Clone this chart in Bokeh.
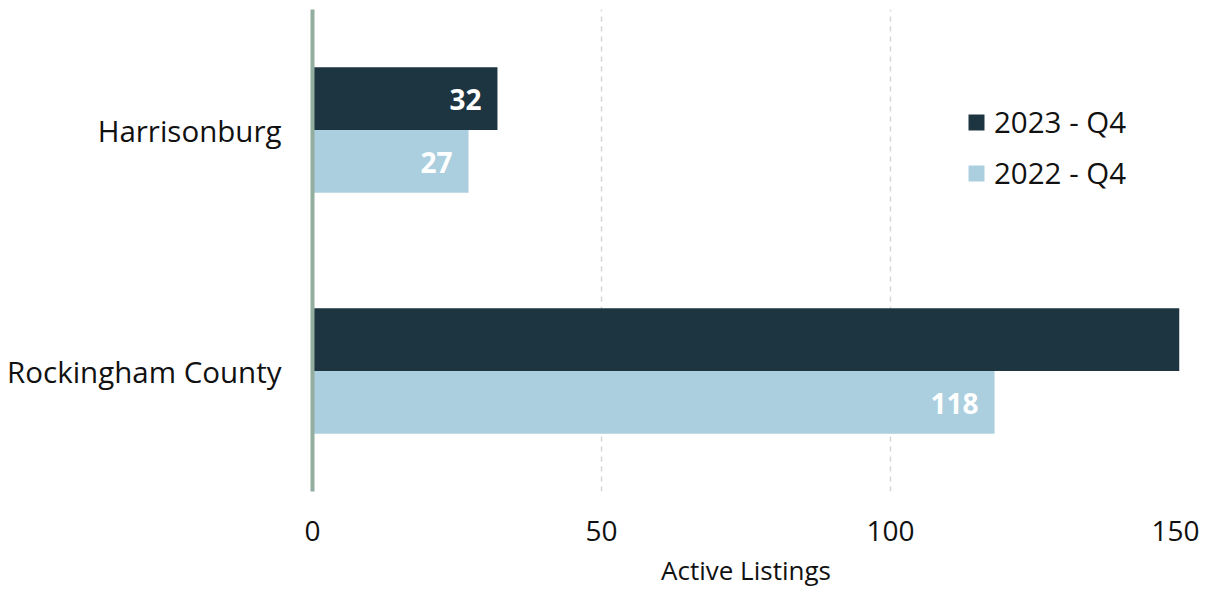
from bokeh.plotting import figure
from bokeh.models import ColumnDataSource, Range1d, FactorRange, FixedTicker, Legend, LegendItem
from bokeh.transform import dodge
from bokeh.core.properties import value
from bokeh.embed import file_html
from bokeh.resources import INLINE

# Data
categories = ["Harrisonburg", "Rockingham County"]
series_names = ["2023 - Q4", "2022 - Q4"]
values_2023 = [32, 165]   # Rockingham 2023 runs past the 150 axis limit
values_2022 = [27, 118]
x_ticks = [0, 50, 100, 150]
x_max = 150
x_label = "Active Listings"

DARK = "#1d3441"
LIGHT = "#abcfde"
FONT = "Open Sans"

def lab(v):
    return str(v) if v <= x_max else ""

src = ColumnDataSource(data=dict(
    cat=categories,
    v23=values_2023,
    v22=values_2022,
    l23=[lab(v) for v in values_2023],
    l22=[lab(v) for v in values_2022],
))

p = figure(
    y_range=FactorRange(factors=list(reversed(categories)), range_padding=0),
    x_range=Range1d(0, x_max),
    width=1199, height=594,
    min_border_left=312, min_border_right=20,
    min_border_top=9, min_border_bottom=103,
    output_backend="svg", toolbar_location=None,
)
p.outline_line_color = None
p.background_fill_color = "white"

r23 = p.hbar(y=dodge("cat", 0.13, range=p.y_range), right="v23", left=0, height=0.26,
             source=src, fill_color=DARK, line_color=None)
r22 = p.hbar(y=dodge("cat", -0.13, range=p.y_range), right="v22", left=0, height=0.26,
             source=src, fill_color=LIGHT, line_color=None)

for col, labcol, off in (("v23", "l23", 0.13), ("v22", "l22", -0.13)):
    p.text(x=col, y=dodge("cat", off, range=p.y_range), text=labcol, source=src,
           text_align="right", text_baseline="middle", x_offset=-16, y_offset=1,
           text_font=value(FONT), text_font_style="bold", text_font_size="28px",
           text_color="white")

# grid
p.ygrid.grid_line_color = None
p.xgrid.ticker = FixedTicker(ticks=x_ticks)
p.xgrid.grid_line_color = "#d6d6d6"
p.xgrid.grid_line_dash = "5 5"
p.xgrid.grid_line_width = 1.5

# x axis
p.xaxis.ticker = FixedTicker(ticks=x_ticks)
p.xaxis.axis_line_color = None
p.xaxis.major_tick_line_color = None
p.xaxis.minor_tick_line_color = None
p.xaxis.major_label_text_font = FONT
p.xaxis.major_label_text_font_size = "28px"
p.xaxis.major_label_text_color = "#111111"
p.xaxis.major_label_standoff = 23
p.xaxis.axis_label = x_label
p.xaxis.axis_label_text_font = FONT
p.xaxis.axis_label_text_font_size = "26px"
p.xaxis.axis_label_text_font_style = "normal"
p.xaxis.axis_label_text_color = "#111111"
p.xaxis.axis_label_standoff = 8

# y axis
p.yaxis.axis_line_color = "#93ad9f"
p.yaxis.axis_line_width = 4
p.yaxis.major_tick_line_color = None
p.yaxis.minor_tick_line_color = None
p.yaxis.major_label_text_font = FONT
p.yaxis.major_label_text_font_size = "29.5px"
p.yaxis.major_label_text_color = "#111111"
p.yaxis.major_label_standoff = 25

legend = Legend(items=[LegendItem(label=series_names[0], renderers=[r23]),
                       LegendItem(label=series_names[1], renderers=[r22])],
                location=(654, 298))
legend.border_line_color = None
legend.background_fill_alpha = 0
legend.label_text_font = FONT
legend.label_text_font_size = "29.5px"
legend.label_text_color = "#111111"
legend.glyph_width = 20
legend.glyph_height = 20
legend.label_standoff = 8
legend.spacing = 10
legend.padding = 4
legend.margin = 0
p.add_layout(legend, "center")

open("out.html", "w").write(file_html(p, INLINE))
